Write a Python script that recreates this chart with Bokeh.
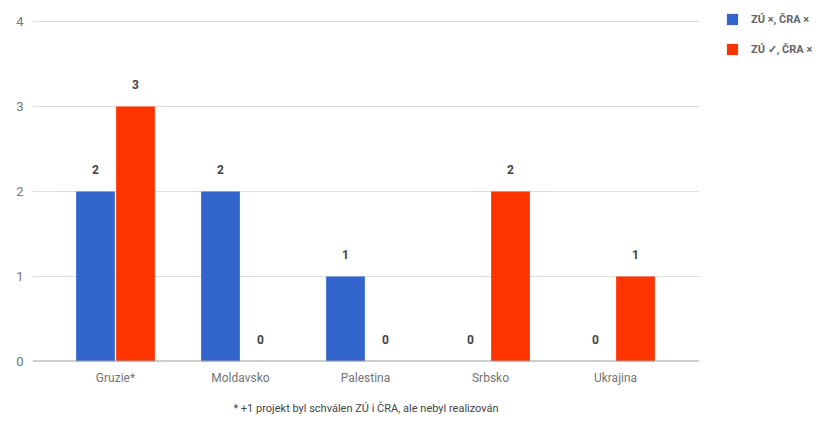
from bokeh.plotting import figure
from bokeh.models import ColumnDataSource, Legend, LegendItem, Title, FixedTicker, LabelSet
from bokeh.core.properties import value
from bokeh.transform import dodge
from bokeh.embed import file_html
from bokeh.resources import INLINE

categories = ["Gruzie*", "Moldavsko", "Palestina", "Srbsko", "Ukrajina"]
series_a = [2, 2, 1, 0, 0]   # ZÚ ×, ČRA ×
series_b = [3, 0, 0, 2, 1]   # ZÚ ✓, ČRA ×
name_a = "ZÚ ×, ČRA ×"
name_b = "ZÚ ✓, ČRA ×"
footnote = "* +1 projekt byl schválen ZÚ i ČRA, ale nebyl realizován"
y_ticks = [0, 1, 2, 3, 4]

idx = list(range(len(categories)))
src = ColumnDataSource(dict(x=idx, a=series_a, b=series_b,
                            la=[str(v) for v in series_a], lb=[str(v) for v in series_b]))

FONT = "Roboto"
p = figure(frame_width=667, frame_height=341, output_backend="svg", toolbar_location=None,
           x_range=(-0.664, 4.672), y_range=(0, 4.012),
           min_border_left=32, min_border_right=5, min_border_top=20, min_border_bottom=5)
p.outline_line_color = None
p.background_fill_color = "white"

ra = p.vbar(x=dodge("x", -0.16, range=p.x_range), top="a", width=0.31, source=src,
            color="#3366cc", line_color=None)
rb = p.vbar(x=dodge("x", 0.16, range=p.x_range), top="b", width=0.31, source=src,
            color="#ff3300", line_color=None)

for col, lab, off in [("a", "la", -0.16), ("b", "lb", 0.16)]:
    ls = LabelSet(x=dodge("x", off, range=p.x_range), y=col, text=lab, source=src,
                  text_align="center", text_baseline="middle", y_offset=22,
                  text_font=value(FONT), text_font_size="12px", text_font_style="bold",
                  text_color="#444444")
    p.add_layout(ls)

# zero baseline
p.hspan(y=[0], line_color="#9e9e9e", line_width=2)

p.xgrid.grid_line_color = None
p.ygrid.grid_line_color = "#dddddd"
p.ygrid.ticker = FixedTicker(ticks=y_ticks)

p.yaxis.ticker = FixedTicker(ticks=y_ticks)
p.yaxis.axis_line_color = None
p.yaxis.major_tick_line_color = None
p.yaxis.minor_tick_line_color = None
p.yaxis.major_label_standoff = 3
p.yaxis.major_label_text_font = FONT
p.yaxis.major_label_text_font_size = "13px"
p.yaxis.major_label_text_color = "#757575"

p.xaxis.ticker = FixedTicker(ticks=idx)
p.xaxis.major_label_overrides = {i: c for i, c in zip(idx, categories)}
p.xaxis.axis_line_color = None
p.xaxis.major_tick_line_color = None
p.xaxis.minor_tick_line_color = None
p.xaxis.major_label_standoff = 3
p.xaxis.major_label_text_font = FONT
p.xaxis.major_label_text_font_size = "12px"
p.xaxis.major_label_text_color = "#757575"

t = Title(text=footnote, align="center", text_font=FONT, text_font_size="11px",
          text_font_style="normal", text_color="#444444", standoff=25)
p.add_layout(t, "below")

legend = Legend(items=[LegendItem(label=name_a, renderers=[ra]),
                       LegendItem(label=name_b, renderers=[rb])],
                location=(26, 305), glyph_width=14, glyph_height=14,
                label_text_font=FONT, label_text_font_size="11px",
                label_text_font_style="bold",
                label_text_color="#666666", spacing=16, padding=0, margin=0,
                border_line_color=None, label_standoff=12, label_height=14)
p.add_layout(legend, "right")

open("out.html", "w").write(file_html(p, INLINE))
